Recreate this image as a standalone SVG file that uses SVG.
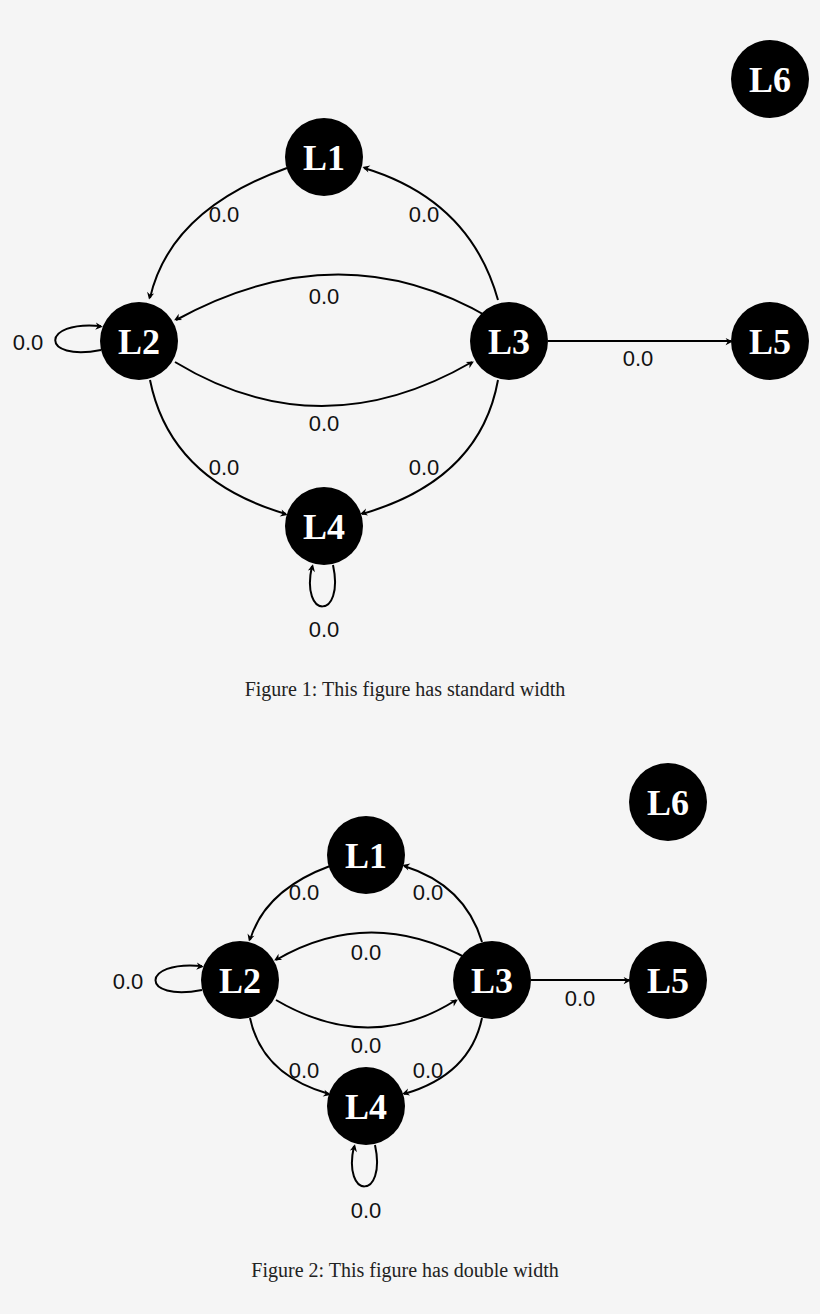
<svg xmlns="http://www.w3.org/2000/svg" width="820" height="1314" viewBox="0 0 820 1314">
<style>
.n{fill:#000}
.nt{fill:#fff;font-family:"Liberation Serif",serif;font-weight:bold;font-size:36px;text-anchor:middle}
.e{fill:none;stroke:#000;stroke-width:2;marker-end:url(#a)}
.l{font-family:"Liberation Sans",sans-serif;font-size:22px;text-anchor:middle;fill:#111}
.c{font-family:"Liberation Serif",serif;font-size:20px;text-anchor:middle;fill:#222}
</style>
<defs><marker id="a" viewBox="0 0 10 10" refX="9" refY="5" markerWidth="6" markerHeight="6" orient="auto" markerUnits="userSpaceOnUse" overflow="visible"><path d="M0,0 L10,5 L0,10 L3,5 z" fill="#000" transform="scale(1.2)"/></marker></defs>
<rect width="820" height="1314" fill="#f5f5f5"/>
<g id="edges1">
<path class="e" d="M287,168 Q170,210 150,298"/>
<path class="e" d="M498,300 Q470,200 364,168"/>
<path class="e" d="M490,318 Q340,230 176,320"/>
<path class="e" d="M175,362 Q320,450 472,362"/>
<path class="e" d="M150,380 Q170,480 286,514"/>
<path class="e" d="M498,380 Q480,480 362,514"/>
<path class="e" d="M548,341 L731,341"/>
<path class="e" d="M101,350 C40,362 40,320 101,326"/>
<path class="e" d="M333,565 C345,620 300,620 312,566"/>
</g>
<g class="l">
<text x="224" y="222">0.0</text><text x="424" y="222">0.0</text><text x="324" y="304">0.0</text><text x="324" y="431">0.0</text><text x="224" y="475">0.0</text><text x="424" y="475">0.0</text><text x="638" y="366">0.0</text><text x="28" y="350">0.0</text><text x="324" y="637">0.0</text>
</g>
<g id="f1L1"><circle class="n" cx="324" cy="157" r="39"/><text class="nt" x="324" y="170">L1</text></g>
<g id="f1L2"><circle class="n" cx="139" cy="341" r="39"/><text class="nt" x="139" y="354">L2</text></g>
<g id="f1L3"><circle class="n" cx="509" cy="341" r="39"/><text class="nt" x="509" y="354">L3</text></g>
<g id="f1L4"><circle class="n" cx="324" cy="526" r="39"/><text class="nt" x="324" y="539">L4</text></g>
<g id="f1L5"><circle class="n" cx="770" cy="341" r="39"/><text class="nt" x="770" y="354">L5</text></g>
<g id="f1L6"><circle class="n" cx="770" cy="79" r="39"/><text class="nt" x="770" y="92">L6</text></g>
<text class="c" x="405" y="696">Figure 1: This figure has standard width</text>
<g id="edges2">
<path class="e" d="M330,866 Q265,890 250,940"/>
<path class="e" d="M482,942 Q465,885 404,866"/>
<path class="e" d="M470,960 Q370,905 276,960"/>
<path class="e" d="M276,1000 Q370,1055 456,1000"/>
<path class="e" d="M250,1018 Q262,1075 329,1094"/>
<path class="e" d="M482,1018 Q470,1075 404,1094"/>
<path class="e" d="M531,980 L629,980"/>
<path class="e" d="M202,990 C140,1002 140,960 202,966"/>
<path class="e" d="M375,1145 C387,1200 342,1200 354,1146"/>
</g>
<g class="l">
<text x="304" y="900">0.0</text><text x="428" y="900">0.0</text><text x="366" y="960">0.0</text><text x="366" y="1053">0.0</text><text x="304" y="1078">0.0</text><text x="428" y="1078">0.0</text><text x="580" y="1006">0.0</text><text x="128" y="989">0.0</text><text x="366" y="1218">0.0</text>
</g>
<g id="f2L1"><circle class="n" cx="366" cy="855" r="39"/><text class="nt" x="366" y="868">L1</text></g>
<g id="f2L2"><circle class="n" cx="240" cy="980" r="39"/><text class="nt" x="240" y="993">L2</text></g>
<g id="f2L3"><circle class="n" cx="492" cy="980" r="39"/><text class="nt" x="492" y="993">L3</text></g>
<g id="f2L4"><circle class="n" cx="366" cy="1106" r="39"/><text class="nt" x="366" y="1119">L4</text></g>
<g id="f2L5"><circle class="n" cx="668" cy="980" r="39"/><text class="nt" x="668" y="993">L5</text></g>
<g id="f2L6"><circle class="n" cx="668" cy="802" r="39"/><text class="nt" x="668" y="815">L6</text></g>
<text class="c" x="405" y="1277">Figure 2: This figure has double width</text>
</svg>
